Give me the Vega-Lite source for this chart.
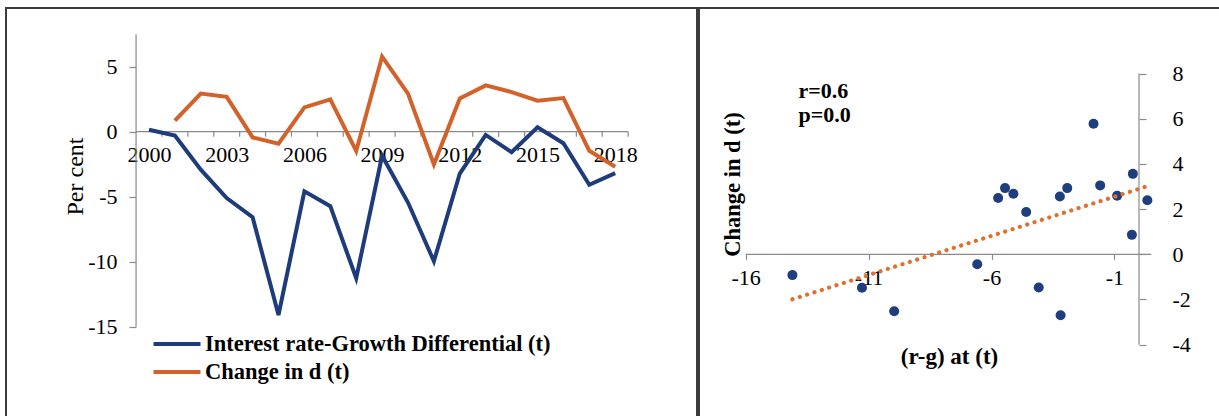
{
  "$schema": "https://vega.github.io/schema/vega-lite/v6.json",
  "padding": {"left": 5, "top": 7, "right": 2, "bottom": 0},
  "background": "white",
  "spacing": 0,
  "config": {
    "view": {"stroke": "#3c3c3c", "strokeWidth": 2},
    "font": "Liberation Serif",
    "axis": {"labelColor": "#000", "titleColor": "#000", "labelFont": "Liberation Serif", "titleFont": "Liberation Serif", "tickColor": "#8a8a8a", "tickWidth": 1.2, "grid": false, "domain": false, "labelFlush": false, "labelOverlap": false, "labelBound": false, "labelSeparation": 0}
  },
  "datasets": {
    "d": [
      {"year": 2000, "rg": 0.15, "dd": null},
      {"year": 2001, "rg": -0.29, "dd": 0.86},
      {"year": 2002, "rg": -2.92, "dd": 2.93},
      {"year": 2003, "rg": -5.11, "dd": 2.68},
      {"year": 2004, "rg": -6.58, "dd": -0.44},
      {"year": 2005, "rg": -14.1, "dd": -0.92},
      {"year": 2006, "rg": -4.59, "dd": 1.87},
      {"year": 2007, "rg": -5.73, "dd": 2.49},
      {"year": 2008, "rg": -11.27, "dd": -1.48},
      {"year": 2009, "rg": -1.85, "dd": 5.78},
      {"year": 2010, "rg": -5.45, "dd": 2.93},
      {"year": 2011, "rg": -9.96, "dd": -2.52},
      {"year": 2012, "rg": -3.22, "dd": 2.56},
      {"year": 2013, "rg": -0.25, "dd": 3.56},
      {"year": 2014, "rg": -1.58, "dd": 3.05},
      {"year": 2015, "rg": 0.34, "dd": 2.39},
      {"year": 2016, "rg": -0.89, "dd": 2.59},
      {"year": 2017, "rg": -4.08, "dd": -1.47},
      {"year": 2018, "rg": -3.19, "dd": -2.7}
    ]
  },
  "hconcat": [
    {
      "width": 691,
      "height": 409,
      "layer": [
        {
          "data": {"name": "d"},
          "mark": {"type": "rule", "color": "#8a8a8a", "strokeWidth": 1.2, "xOffset": 12.95},
          "encoding": {
            "x": {"field": "year", "type": "quantitative", "scale": {"domain": [1994.479, 2021.158], "nice": false, "zero": false},
              "axis": {"orient": "bottom", "offset": -285.3, "values": [2000, 2003, 2006, 2009, 2012, 2015, 2018],
                "labelExpr": "'' + datum.value", "labelOverlap": false, "ticks": false, "labelFontSize": 22, "labelPadding": 13, "title": null}},
            "y": {"datum": 0, "type": "quantitative", "scale": {"domain": [-21.946, 9.515], "nice": false, "zero": false},
              "axis": {"values": [-15, -10, -5, 0, 5], "offset": -130, "tickSize": 7, "labelFontSize": 22, "labelPadding": 12, "labelOverlap": false,
                "labelExpr": "'' + datum.value",
                "title": "Per cent", "titleFontSize": 24, "titleFontWeight": "normal", "titleX": -61, "titleY": 168, "titleAngle": -90, "titleBaseline": "middle", "titleAlign": "center"}},
            "y2": {"datum": -0.38}
          }
        },
        {
          "data": {"values": [{}]},
          "mark": {"type": "rule", "color": "#8a8a8a", "strokeWidth": 1.2},
          "encoding": {
            "x": {"datum": 1999.5, "type": "quantitative"},
            "y": {"datum": -15, "type": "quantitative"},
            "y2": {"datum": 7.5}
          }
        },
        {
          "data": {"values": [{}]},
          "mark": {"type": "rule", "color": "#8a8a8a", "strokeWidth": 1.2},
          "encoding": {
            "x": {"datum": 1999.5, "type": "quantitative"},
            "x2": {"datum": 2018.5},
            "y": {"datum": 0, "type": "quantitative"}
          }
        },
        {
          "data": {"name": "d"},
          "transform": [{"fold": ["rg", "dd"], "as": ["key", "value"]}],
          "mark": {"type": "line", "strokeWidth": 4},
          "encoding": {
            "x": {"field": "year", "type": "quantitative"},
            "y": {"field": "value", "type": "quantitative"},
            "color": {"field": "key", "type": "nominal", "sort": ["rg", "dd"],
              "scale": {"domain": ["rg", "dd"], "range": ["#1f3c7a", "#d2622a"]},
              "legend": {"orient": "none", "legendX": 157, "legendY": 322, "title": null, "direction": "vertical", "padding": 0,
                "symbolType": "M-2,0H2", "symbolSize": 552, "symbolStrokeWidth": 4,
                "labelFont": "Liberation Serif", "labelFontSize": 22.5, "labelFontWeight": "bold", "labelColor": "#000", "labelLimit": 700, "labelOffset": 14, "rowPadding": 2,
                "labelExpr": "datum.label == 'rg' ? 'Interest rate-Growth Differential (t)' : 'Change in d (t)'"}}
          }
        }
      ]
    },
    {
      "width": 521,
      "height": 409,
      "layer": [
        {
          "data": {"values": [{}]},
          "mark": {"type": "rule", "color": "#8a8a8a", "strokeWidth": 1.2},
          "encoding": {
            "x": {"datum": -16, "type": "quantitative", "scale": {"domain": [-17.9, 3.295], "nice": false, "zero": false},
              "axis": {"orient": "bottom", "offset": -162.7, "values": [-16, -11, -6, -1], "tickSize": 5, "labelFontSize": 22, "labelPadding": 8, "labelOverlap": false,
                "labelExpr": "'' + datum.value",
                "title": "(r-g) at (t)", "titleFontSize": 23, "titleFontWeight": "bold", "titleX": 250, "titleY": 102, "titleBaseline": "middle", "titleAlign": "center"}},
            "x2": {"datum": 0.5},
            "y": {"datum": 0, "type": "quantitative", "scale": {"domain": [-7.2, 10.9], "nice": false, "zero": false},
              "axis": {"orient": "right", "offset": -81, "values": [-4, -2, 0, 2, 4, 6, 8], "tickSize": 7, "labelFontSize": 22, "labelPadding": 26, "labelAlign": "left", "labelOverlap": false,
                "labelExpr": "'' + datum.value",
                "title": "Change in d (t)", "titleFontSize": 22.5, "titleFontWeight": "bold", "titleX": -407, "titleY": 176, "titleAngle": -90, "titleBaseline": "middle", "titleAlign": "center"}}
          }
        },
        {
          "data": {"values": [{}]},
          "mark": {"type": "rule", "color": "#8a8a8a", "strokeWidth": 1.2},
          "encoding": {
            "x": {"datum": 0, "type": "quantitative"},
            "y": {"datum": -4, "type": "quantitative"},
            "y2": {"datum": 8}
          }
        },
        {
          "data": {"name": "d"},
          "transform": [{"filter": "datum.dd != null"}],
          "mark": {"type": "circle", "size": 100, "opacity": 1, "color": "#1f3e7e"},
          "encoding": {
            "x": {"field": "rg", "type": "quantitative"},
            "y": {"field": "dd", "type": "quantitative"}
          }
        },
        {
          "data": {"name": "d"},
          "transform": [{"filter": "datum.dd != null"}, {"regression": "dd", "on": "rg"}],
          "mark": {"type": "line", "color": "#e0702e", "strokeWidth": 4.2, "strokeCap": "round", "strokeDash": [0.1, 7.6]},
          "encoding": {
            "x": {"field": "rg", "type": "quantitative"},
            "y": {"field": "dd", "type": "quantitative"}
          }
        },
        {
          "data": {"values": [{}]},
          "mark": {"type": "text", "align": "left", "baseline": "middle", "font": "Liberation Serif", "fontSize": 22, "fontWeight": "bold", "color": "#000", "lineHeight": 23.3},
          "encoding": {
            "x": {"datum": -13.85, "type": "quantitative"},
            "y": {"datum": 7.21, "type": "quantitative"},
            "text": {"value": ["r=0.6", "p=0.0"]}
          }
        }
      ]
    }
  ]
}
